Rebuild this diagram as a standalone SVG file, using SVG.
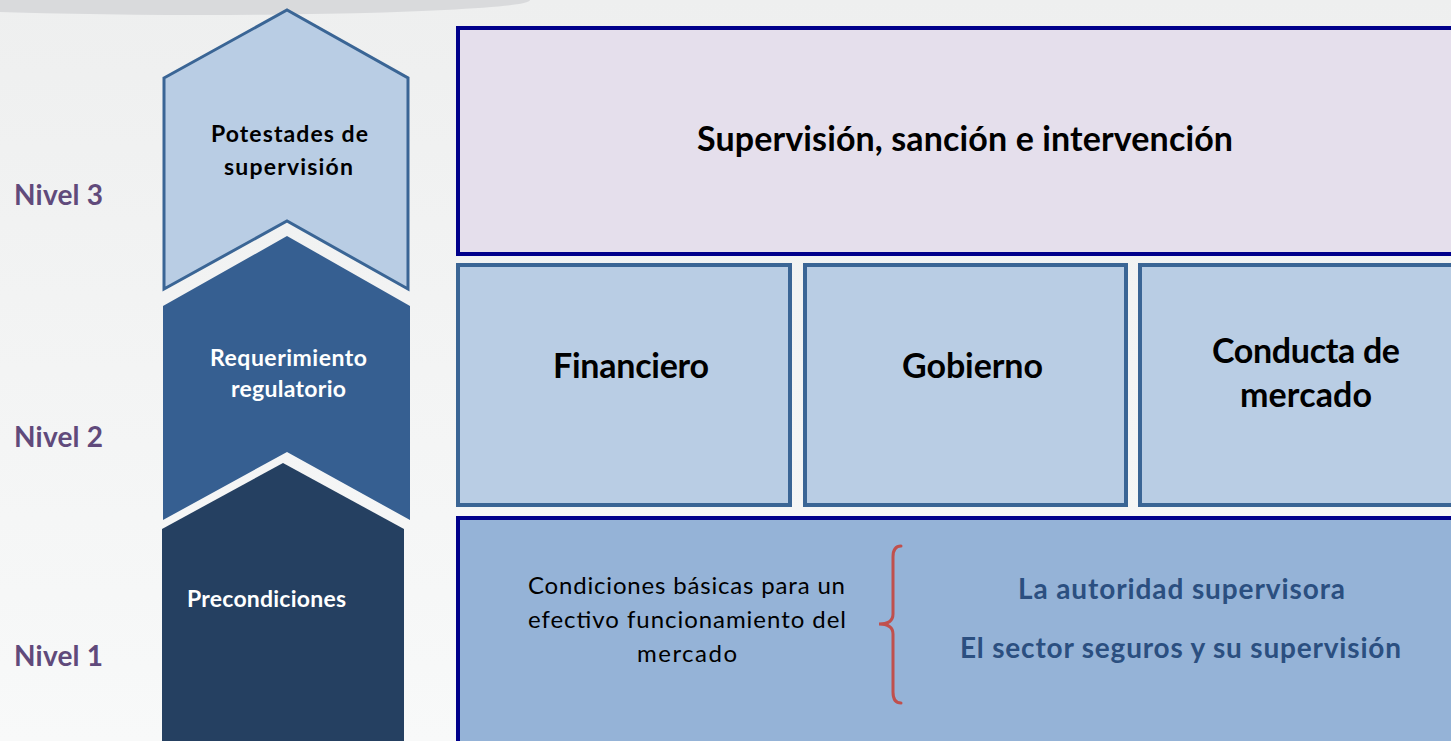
<svg xmlns="http://www.w3.org/2000/svg" width="1451" height="741" viewBox="0 0 1451 741">
<defs>
<linearGradient id="bg" x1="0" y1="0" x2="0" y2="1">
<stop offset="0" stop-color="#eeefef"/>
<stop offset="1" stop-color="#f8f9f9"/>
</linearGradient>
<style>
.lbl{font-family:Lato,"Liberation Sans",sans-serif;}
.nivel{font-size:28px;font-weight:bold;fill:#604a7b;}
.chev{font-size:23px;font-weight:bold;text-anchor:middle;}
.big{font-size:34px;font-weight:bold;text-anchor:middle;fill:#000;}
.cond{font-size:24px;text-anchor:middle;fill:#000;}
.blue{font-size:28px;font-weight:bold;text-anchor:middle;fill:#2b4f80;}
.box2{fill:#b9cde4;stroke:#3a6595;stroke-width:4;}
</style>
</defs>
<rect width="1451" height="741" fill="url(#bg)"/>
<ellipse cx="200" cy="0" rx="330" ry="15" fill="#d9dadc"/>

<g id="level-labels" class="lbl nivel">
<text x="14" y="205" textLength="89">Nivel 3</text>
<text x="14" y="447" textLength="89">Nivel 2</text>
<text x="14" y="666" textLength="89">Nivel 1</text>
</g>

<g id="chevron-1">
<path d="M162,529 L283,463 L404,529 L404,745 L162,745 Z" fill="#254061"/>
<text class="lbl chev" x="266.5" y="607" fill="#fff" textLength="159">Precondiciones</text>
</g>
<g id="chevron-2">
<path d="M163,306 L287,236 L410,306 L410,520 L287,452 L163,520 Z" fill="#365f91"/>
<text class="lbl chev" x="288.5" y="366" fill="#fff" textLength="157">Requerimiento</text>
<text class="lbl chev" x="288.5" y="397" fill="#fff" textLength="115">regulatorio</text>
</g>
<g id="chevron-3">
<path d="M164,78 L287,10 L408,78 L408,289 L287,221 L164,289 Z" fill="#b9cde4" stroke="#3a6595" stroke-width="3" stroke-linejoin="miter"/>
<text class="lbl chev" x="289.5" y="142" fill="#000" textLength="157">Potestades de</text>
<text class="lbl chev" x="288.5" y="175" fill="#000" textLength="129">supervisión</text>
</g>

<g id="box-supervision">
<rect x="458" y="28" width="1010" height="226" fill="#e5dfec" stroke="#00008b" stroke-width="4"/>
<text class="lbl big" x="965" y="151" textLength="536">Supervisión, sanción e intervención</text>
</g>
<g id="box-financiero">
<rect class="box2" x="458" y="265" width="332" height="240"/>
<text class="lbl big" x="631" y="378" textLength="156">Financiero</text>
</g>
<g id="box-gobierno">
<rect class="box2" x="805" y="265" width="321" height="240"/>
<text class="lbl big" x="972.5" y="378" textLength="141">Gobierno</text>
</g>
<g id="box-conducta">
<rect class="box2" x="1140" y="265" width="330" height="240"/>
<text class="lbl big" x="1306" y="363" textLength="188">Conducta de</text>
<text class="lbl big" x="1306" y="407" textLength="132">mercado</text>
</g>
<g id="box-precondiciones">
<rect x="458" y="518" width="1010" height="240" fill="#95b3d7" stroke="#00008b" stroke-width="4"/>
<text class="lbl cond" x="686.5" y="594" textLength="317">Condiciones básicas para un</text>
<text class="lbl cond" x="687" y="628" textLength="318">efectivo funcionamiento del</text>
<text class="lbl cond" x="687" y="662" textLength="100">mercado</text>
<path d="M901,546 C895,546 893,550 893,557 L893,614 C893,620 889,624 879,624 C889,624 893,628 893,634 L893,692 C893,699 895,703 901,703" fill="none" stroke="#c0504d" stroke-width="3" stroke-linecap="round"/>
<text class="lbl blue" x="1181.5" y="599" textLength="327">La autoridad supervisora</text>
<text class="lbl blue" x="1180.5" y="658" textLength="441">El sector seguros y su supervisión</text>
</g>
<g id="connectors"/>
</svg>
